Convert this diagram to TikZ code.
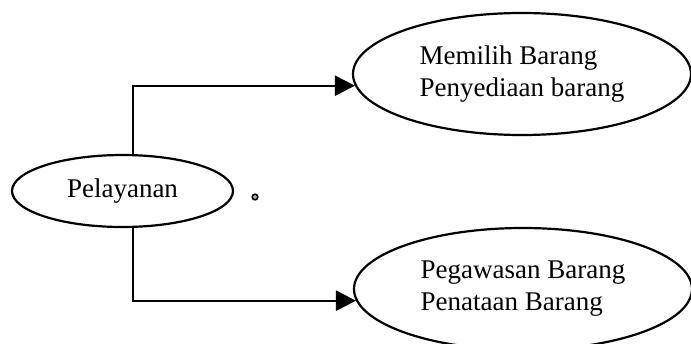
\documentclass[tikz,border=0pt]{standalone}
\usepackage{fontspec}
\setmainfont{Liberation Serif}
\usetikzlibrary{shapes,arrows,arrows.meta,positioning}

\begin{document}
\begin{tikzpicture}[x=0.5pt, y=-0.5pt,
        bubble/.style={draw, ellipse, line width=1.1pt, inner sep=0pt, align=left,
            font=\fontsize{13.5}{16}\selectfont},
        link/.style={line width=1.1pt, -{Triangle[length=10pt,width=10pt]}}]
        \useasboundingbox (0,0) rectangle (691,343);

        % Main ellipse on the left
        \node[bubble, minimum width=110.5pt, minimum height=36pt] (pelayanan) at (122.5,191) {Pelayanan};

        % Stray dot next to it
        \draw[line width=0.8pt, fill=gray!60] (255,197) circle (1.4pt);

        % Two ellipses on the right
        \node[bubble, minimum width=169pt, minimum height=61pt] (memilih) at (522,74)
            {Memilih Barang\\Penyediaan barang};
        \node[bubble, minimum width=169pt, minimum height=61pt] (pegawasan) at (523,289)
            {Pegawasan Barang\\Penataan Barang};

        % Connections
        \draw[link] (pelayanan.74) |- (memilih.184.5);
        \draw[link] (pelayanan.286) |- (pegawasan.184.5);
    \end{tikzpicture}
\end{document}
